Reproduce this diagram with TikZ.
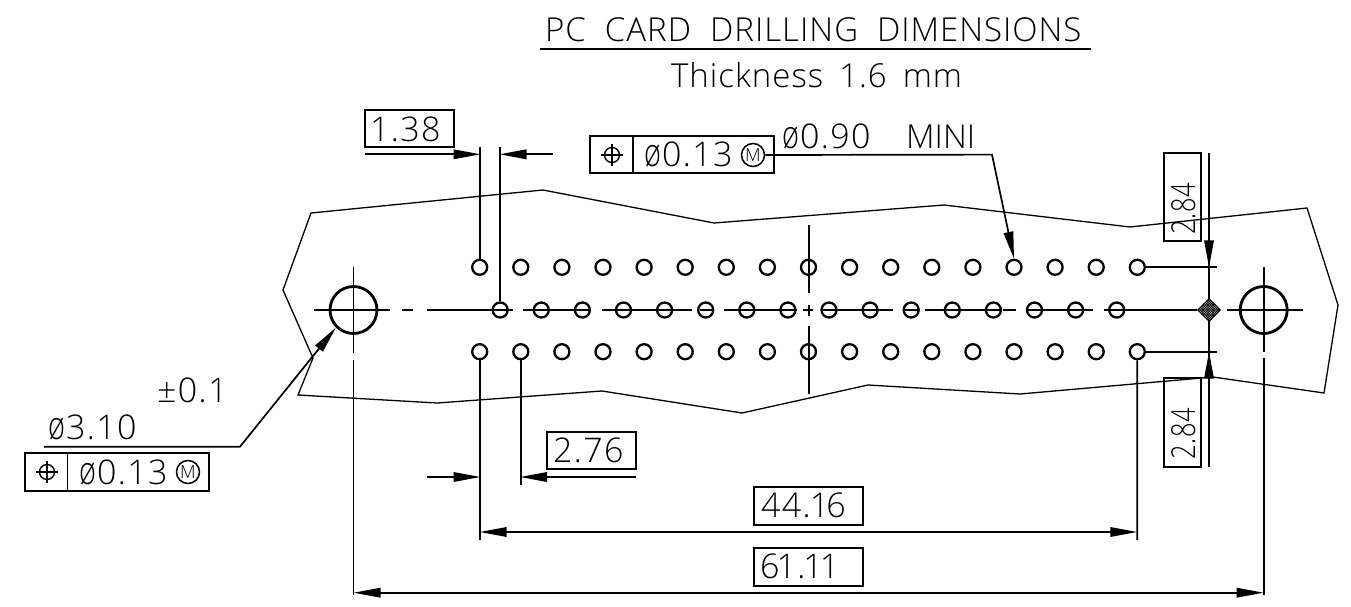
\documentclass[tikz,border=0pt]{standalone}
\usepackage{fontspec}
\usetikzlibrary{arrows.meta,shapes.geometric}
\setmainfont{Open Sans Light}[LetterSpace=3]
\newcommand{\dia}{\scalebox{0.85}[1.15]{ø}\kern1pt}
\newcommand{\wgap}{\hspace{19pt}}
\newcommand{\tgap}{\hspace{16pt}}
\tikzset{
  x=1pt,y=-1pt,
  thick line/.style={line width=1.8pt},
  outline/.style={line width=1.3pt,line join=miter},
  axis/.style={line width=1.7pt},
  dimline/.style={line width=1.7pt},
  tipped/.style={dimline,-{Triangle[length=27pt,width=9.5pt]}},
  twotip/.style={dimline,{Triangle[length=27pt,width=9.5pt]}-{Triangle[length=27pt,width=9.5pt]}},
  hole/.style={circle,draw,line width=2.3pt,minimum size=15pt,inner sep=0pt},
  bighole/.style={circle,draw,line width=2.8pt,minimum size=47pt,inner sep=0pt},
  dimbox/.style={draw,line width=1.6pt,rectangle,inner sep=0pt,minimum width=#1},
  dimbox/.default=89pt,
  dimtxt/.style={font=\fontsize{34}{34}\selectfont\addfontfeature{LetterSpace=4},inner sep=0pt,anchor=base west},
  titletxt/.style={font=\fontsize{33}{33}\selectfont,inner sep=0pt,anchor=base west},
  mmark/.style={circle,draw,line width=1.5pt,minimum size=23pt,inner sep=0pt,font=\fontsize{18}{18}\selectfont\addfontfeature{LetterSpace=0}},
}
\newcommand{\possym}[1]{%
  \node[circle,draw,line width=1.4pt,minimum size=15pt,inner sep=0pt] (#1) {};
  \draw[line width=1.4pt] ([xshift=-11pt]#1.center) -- ([xshift=11pt]#1.center)
     ([yshift=-11pt]#1.center) -- ([yshift=11pt]#1.center);
}
\begin{document}
\begin{tikzpicture}
\useasboundingbox (0,0) rectangle (1351,607);

% title
\node[titletxt] (title) at (545,42) {PC\wgap CARD\wgap DRILLING\wgap DIMENSIONS};
\coordinate (tl) at (540,49); \coordinate (tr) at (1091,49);
\draw[thick line] (tl) -- (tr);
\node[titletxt] (thick) at (671,88) {Thickness\tgap 1.6\tgap mm};

% outline
\draw[outline] (311,213) -- (543,190) -- (714,223) -- (944,205) -- (1130,227)
  -- (1307,208) -- (1338,305) -- (1324,393) -- (1213,377) -- (1020,394) -- (868,385)
  -- (742,413) -- (602,391) -- (437,403) -- (298,395) -- (313,358) -- (283,290) -- cycle;

% holes
\foreach \i in {1,...,17}{
  \pgfmathsetmacro{\xx}{479.7+41.1*(\i-1)}
  \node[hole] (t\i) at (\xx,267.3) {};
  \node[hole] (b\i) at (\xx,351.7) {};
}
\foreach \i in {1,...,16}{
  \pgfmathsetmacro{\xx}{500.2+41.1*(\i-1)}
  \node[hole] (m\i) at (\xx,310) {};
}
\node[bighole] (L) at (353.5,310) {};
\node[bighole] (R) at (1263.7,310) {};

% centre line
\foreach \a/\b in {314/390,402/413,427/513,523/590,602/692,700/713,724/797,803/813,822/893,903/919,925/1000,1003/1016,1027/1093,1104/1197,1227/1303}{
  \draw[axis] (\a,310) -- (\b,310);
}
\draw[line width=2.3pt] (1125,310) -- (1197,310);
% vertical axes
\foreach \x/\a/\b in {353.5/267/353,353.5/360/595,1263.7/267/352,1263.7/358/595,808.7/225/293,808.7/305/316,808.7/326/394}{
  \draw[axis] (\x,\a) -- (\x,\b);
}

% 2.84 pair
\coordinate (v1) at (1209,153); \coordinate (v2) at (1209,467);
\coordinate (vt) at (1209,267.3); \coordinate (vb) at (1209,351.7);
\draw[dimline] (v1) -- (v2);
\coordinate (vta) at (1209,240); \coordinate (vba) at (1209,379);
\draw[tipped] (vta) -- (vt);
\draw[tipped] (vba) -- (vb);
\coordinate (x1) at (1217,267.3); \coordinate (x2) at (1217,351.7);
\draw[dimline] (t17.east) -- (x1);
\draw[dimline] (b17.east) -- (x2);
\node[draw,line width=1.6pt,minimum width=37pt,minimum height=88pt,inner sep=0pt] (b284a) at (1182.5,197) {};
\node[font=\fontsize{33}{33}\selectfont,inner sep=0pt,rotate=90,anchor=base west] (t284a) at (1195,235) {\scalebox{0.77}[1]{2.84}};
\node[draw,line width=1.6pt,minimum width=37pt,minimum height=89pt,inner sep=0pt] (b284b) at (1182.5,422.5) {};
\node[font=\fontsize{33}{33}\selectfont,inner sep=0pt,rotate=90,anchor=base west] (t284b) at (1195,460) {\scalebox{0.77}[1]{2.84}};

% diamond datum
\node[diamond,draw,line width=1pt,fill=black!30,minimum size=23pt,inner sep=0pt,
  path picture={
    \foreach \d in {-30,-27.5,...,30}{
      \draw[line width=0.6pt,black] ([xshift=\d pt,yshift=-14pt]path picture bounding box.center) -- ([xshift=\d pt+28pt,yshift=14pt]path picture bounding box.center);
      \draw[line width=0.6pt,black] ([xshift=\d pt,yshift=14pt]path picture bounding box.center) -- ([xshift=\d pt+28pt,yshift=-14pt]path picture bounding box.center);
    }
  }] (dm) at (1209,310) {};

% 1.38
\node[dimbox,minimum height=37pt] (b138) at (409.5,128.5) {};
\node[dimtxt] (t138) at (370,141) {1.38};
\coordinate (a138) at (365,154.3); \coordinate (a138tip) at (480.5,154.3);
\coordinate (c138) at (553,154.3); \coordinate (c138tip) at (499.5,154.3);
\draw[tipped] (a138) -- (a138tip);
\draw[tipped] (c138) -- (c138tip);
\coordinate (e1) at (479.7,146.5); \coordinate (e2) at (500.2,146.5);
\draw[dimline] (e1) -- (t1.north);
\draw[dimline] (e2) -- (m1.north);

% upper FCF
\node[draw,line width=1.6pt,minimum width=184pt,minimum height=37pt,inner sep=0pt] (f1) at (682,154.5) {};
\coordinate (f1d) at (633,136); \coordinate (f1e) at (633,173);
\draw[line width=1.6pt] (f1d) -- (f1e);
\begin{scope}[shift={(612,155)}]\possym{s1}\end{scope}
\node[dimtxt] (f1t) at (644,166) {\dia 0.13};
\node[mmark] (m1m) at (753,155) {M};
\node[dimtxt] (d090) at (782,148) {\dia 0.90};
\node[dimtxt,font=\fontsize{33}{33}\selectfont\addfontfeature{LetterSpace=0}] (mini) at (906,148) {MINI};
\coordinate (bend1) at (992,154.6);
\draw[tipped] (m1m.east) -- (bend1) -- (t14.north);

% left callout
\node[dimtxt] (tol) at (157,402) {±0.1};
\node[dimtxt] (d310) at (48,439) {\dia 3.10};
\coordinate (lstart) at (44,446.7); \coordinate (lbend) at (240,446.7);
\draw[tipped] (lstart) -- (lbend) -- (L.south west);
\node[draw,line width=1.6pt,minimum width=184pt,minimum height=38pt,inner sep=0pt] (f2) at (117,472) {};
\coordinate (f2d) at (67.5,453); \coordinate (f2e) at (67.5,491);
\draw[line width=1.6pt] (f2d) -- (f2e);
\begin{scope}[shift={(47,472)}]\possym{s2}\end{scope}
\node[dimtxt] (f2t) at (79,484) {\dia 0.13};
\node[mmark] (m2m) at (188,472) {M};

% 2.76
\node[dimbox=89pt,minimum height=37.5pt] (b276) at (591.2,450.5) {};
\node[dimtxt] (t276) at (553,462.5) {2.76};
\coordinate (a276) at (427,477); \coordinate (a276tip) at (480.5,477);
\coordinate (c276) at (636,477); \coordinate (c276tip) at (520,477);
\draw[tipped] (a276) -- (a276tip);
\draw[tipped] (c276) -- (c276tip);
\coordinate (e3) at (520.8,484.5);
\draw[dimline] (b2.south) -- (e3);
\coordinate (e4) at (479.7,540);
\draw[dimline] (b1.south) -- (e4);
\coordinate (e5) at (1137.3,540);
\draw[dimline] (b17.south) -- (e5);

% 44.16
\node[dimbox=109pt,minimum height=38pt] (b4416) at (808.6,505.8) {};
\node[dimtxt] (t4416) at (761,517.5) {44.\kern-1pt 1\kern-3pt 6};
\coordinate (p1) at (479.7,532); \coordinate (p2) at (1137.3,532);
\draw[twotip] (p1) -- (p2);

% 61.11
\node[dimbox=109pt,minimum height=38pt] (b6111) at (808.6,567) {};
\node[dimtxt] (t6111) at (760,578.5) {6\kern-3pt 1.\kern-2pt 1\kern-3pt 1};
\coordinate (q1) at (353.5,592.7); \coordinate (q2) at (1263.7,592.7);
\draw[twotip] (q1) -- (q2);
\end{tikzpicture}
\end{document}
